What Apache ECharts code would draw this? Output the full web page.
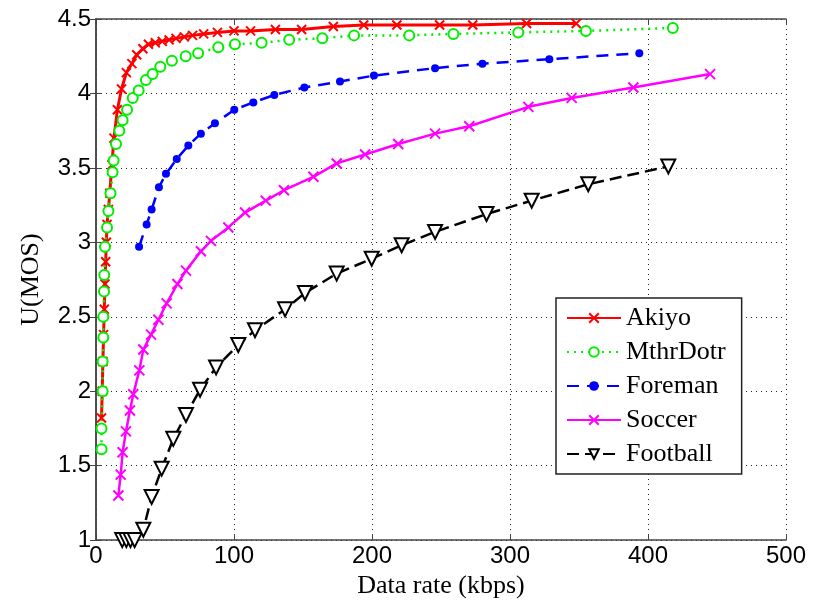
<!DOCTYPE html>
<html>
<head>
<meta charset="utf-8">
<script src="https://cdn.jsdelivr.net/npm/echarts@6/dist/echarts.min.js"></script>
<style>
html, body { margin: 0; padding: 0; background: #fff; }
#chart { width: 813px; height: 604px; }
</style>
</head>
<body>
<div id="chart"></div>
<script>
// values
var names = ['Akiyo', 'MthrDotr', 'Foreman', 'Soccer', 'Football'];

var akiyoX = [4, 4.5, 5, 5.5, 6, 6.5, 7, 7.5, 8, 9, 10, 11.5, 13, 15.5, 18.5, 22, 26, 29.5, 34, 38, 43, 48, 53, 58, 64, 70, 78, 88, 100, 112, 130, 149, 172, 194, 218, 249, 273, 312, 348];
var akiyoY = [1.82, 2.0, 2.2, 2.38, 2.55, 2.72, 2.87, 3.0, 3.12, 3.22, 3.33, 3.52, 3.70, 3.89, 4.03, 4.14, 4.20, 4.26, 4.30, 4.33, 4.34, 4.35, 4.36, 4.37, 4.38, 4.39, 4.40, 4.41, 4.42, 4.42, 4.43, 4.43, 4.45, 4.46, 4.46, 4.46, 4.46, 4.47, 4.47];

var mthrX = [4, 4, 4.8, 4.8, 5.3, 5.3, 5.8, 6, 6.5, 8, 9, 10.5, 12, 12.8, 14.5, 16.9, 19.3, 22.5, 26.6, 30.9, 36.2, 41, 46.6, 55, 65, 74, 88.6, 100.7, 120, 140, 164, 187, 227, 259, 306, 355, 418];
var mthrY = [1.61, 1.75, 2.0, 2.2, 2.36, 2.5, 2.67, 2.78, 2.97, 3.1, 3.21, 3.33, 3.47, 3.55, 3.66, 3.75, 3.82, 3.89, 3.97, 4.02, 4.09, 4.13, 4.18, 4.22, 4.25, 4.27, 4.31, 4.33, 4.34, 4.36, 4.37, 4.39, 4.39, 4.40, 4.41, 4.42, 4.44];

var foremanX = [31.2, 36.7, 40.3, 45.6, 50.7, 58.5, 66.9, 76, 86.2, 100.2, 114, 129.2, 151, 176.8, 201.4, 245.7, 280, 328.5, 393.7];
var foremanY = [2.97, 3.12, 3.22, 3.37, 3.46, 3.56, 3.65, 3.73, 3.80, 3.89, 3.94, 3.99, 4.04, 4.08, 4.12, 4.17, 4.20, 4.23, 4.27];

var soccerX = [16.2, 17.9, 19.3, 21.7, 24.6, 27, 31.4, 34.3, 39.9, 45.2, 51.2, 59, 65.2, 76, 83.3, 95.9, 108, 123, 136.2, 157.5, 174.4, 195, 219, 245.7, 270.5, 313.3, 344.7, 389.4, 445];
var soccerY = [1.30, 1.44, 1.59, 1.73, 1.87, 1.98, 2.14, 2.28, 2.38, 2.48, 2.59, 2.72, 2.81, 2.94, 3.01, 3.10, 3.20, 3.28, 3.35, 3.44, 3.53, 3.59, 3.66, 3.73, 3.78, 3.91, 3.97, 4.04, 4.13];

var footballX = [19, 22, 25, 28, 34.3, 40.3, 47.6, 56, 65.2, 75.4, 87, 103.1, 115.2, 137, 151.4, 174.4, 199.8, 221.5, 245.7, 283, 315.7, 356.7, 414.7];
var footballY = [1.0, 1.0, 1.0, 1.0, 1.07, 1.29, 1.48, 1.68, 1.84, 2.01, 2.16, 2.31, 2.41, 2.55, 2.66, 2.79, 2.89, 2.98, 3.07, 3.19, 3.28, 3.39, 3.51];

function pairs(xs, ys) {
    var out = [];
    for (var i = 0; i < xs.length; i++) {
        out.push([xs[i], ys[i]]);
    }
    return out;
}

var cross = 'path://M0,0L10,10M0,10L10,0';
var serif = '"Liberation Serif", "Times New Roman", serif';
var sans = '"Liberation Sans", Arial, sans-serif';

var chart = echarts.init(document.getElementById('chart'));

var option = {
    backgroundColor: '#fff',
    animation: false,
    grid: { left: 96, right: 27, top: 19, bottom: 61 },
    xAxis: [
        {
            type: 'value', min: 0, max: 500, interval: 100,
            name: 'Data rate (kbps)', nameLocation: 'middle', nameGap: 30,
            nameTextStyle: { fontFamily: serif, fontSize: 26, color: '#000' },
            axisLine: { show: true, lineStyle: { color: '#444', width: 1.5 } },
            axisTick: { show: true, inside: true, length: 6, lineStyle: { color: '#444' } },
            axisLabel: { fontFamily: sans, fontSize: 24, color: '#000', margin: 4 },
            splitLine: { show: true, lineStyle: { color: '#222', type: [1, 4], width: 1 } }
        },
        {
            type: 'value', min: 0, max: 500, interval: 100, position: 'top',
            axisLine: { show: true, lineStyle: { color: '#444', width: 1.5 } },
            axisTick: { show: true, inside: true, length: 6, lineStyle: { color: '#444' } },
            axisLabel: { show: false },
            splitLine: { show: false }
        }
    ],
    yAxis: [
        {
            type: 'value', min: 1, max: 4.5, interval: 0.5,
            name: 'U(MOS)', nameLocation: 'middle', nameGap: 52, nameRotate: 90,
            nameTextStyle: { fontFamily: serif, fontSize: 26, color: '#000' },
            axisLine: { show: true, lineStyle: { color: '#444', width: 1.5 } },
            axisTick: { show: true, inside: true, length: 6, lineStyle: { color: '#444' } },
            axisLabel: { fontFamily: sans, fontSize: 24, color: '#000', margin: 5 },
            splitLine: { show: true, lineStyle: { color: '#222', type: [1, 4], width: 1 } }
        },
        {
            type: 'value', min: 1, max: 4.5, interval: 0.5, position: 'right',
            axisLine: { show: true, lineStyle: { color: '#444', width: 1.5 } },
            axisTick: { show: true, inside: true, length: 6, lineStyle: { color: '#444' } },
            axisLabel: { show: false },
            splitLine: { show: false }
        }
    ],
    legend: {
        orient: 'vertical',
        left: 556, top: 298,
        data: names,
        backgroundColor: '#fff',
        borderColor: '#222', borderWidth: 1.5,
        padding: [5, 16, 5, 10],
        itemWidth: 54, itemHeight: 12, itemGap: 4,
        textStyle: { fontFamily: serif, fontSize: 26, color: '#000', lineHeight: 30 }
    },
    series: [
        {
            name: 'Akiyo', type: 'line', data: pairs(akiyoX, akiyoY),
            symbol: cross, symbolSize: 9, showAllSymbol: true,
            lineStyle: { color: '#ff0000', width: 3 },
            itemStyle: { color: '#ff0000', borderColor: '#ff0000', borderWidth: 2 }
        },
        {
            name: 'MthrDotr', type: 'line', data: pairs(mthrX, mthrY),
            symbol: 'emptyCircle', symbolSize: 10, showAllSymbol: true,
            lineStyle: { color: '#00ee00', width: 2.5, type: [2, 5] },
            itemStyle: { color: '#00ee00', borderColor: '#00ee00', borderWidth: 2.5 }
        },
        {
            name: 'Foreman', type: 'line', data: pairs(foremanX, foremanY),
            symbol: 'circle', symbolSize: 8, showAllSymbol: true,
            lineStyle: { color: '#0000ff', width: 2.5, type: [12, 8] },
            itemStyle: { color: '#0000ff' }
        },
        {
            name: 'Soccer', type: 'line', data: pairs(soccerX, soccerY),
            symbol: cross, symbolSize: 10, showAllSymbol: true,
            lineStyle: { color: '#ff00ff', width: 2.5 },
            itemStyle: { color: '#ff00ff', borderColor: '#ff00ff', borderWidth: 2 }
        },
        {
            name: 'Football', type: 'line', data: pairs(footballX, footballY),
            symbol: 'emptyTriangle', symbolRotate: 180, symbolSize: 14, showAllSymbol: true,
            lineStyle: { color: '#000', width: 2.5, type: [12, 6] },
            itemStyle: { color: '#000', borderColor: '#000', borderWidth: 2.5 }
        }
    ]
};

chart.setOption(option);
</script>
</body>
</html>
